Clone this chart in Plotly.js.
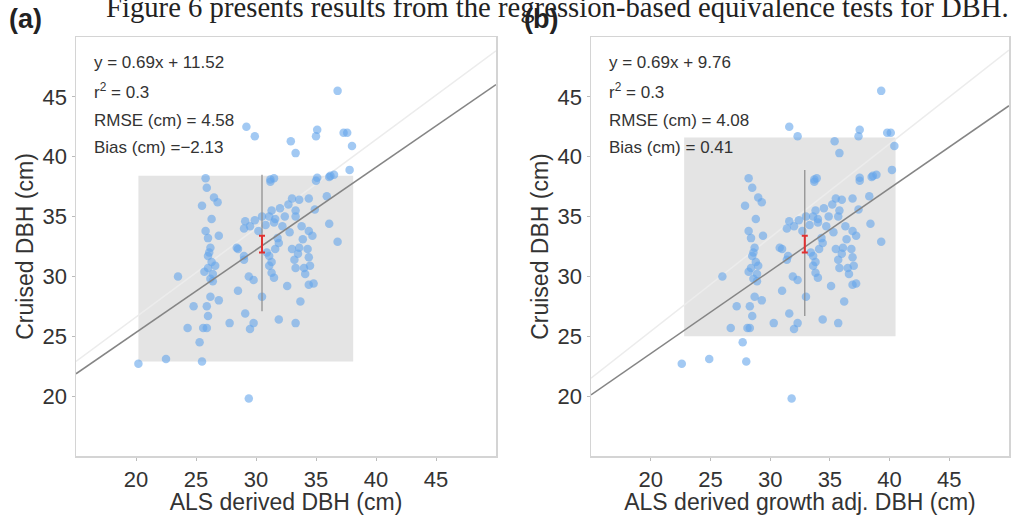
<!DOCTYPE html>
<html>
<head>
<meta charset="utf-8">
<script src="https://cdn.plot.ly/plotly-3.0.1.min.js"></script>
<style>html,body{margin:0;padding:0;background:#fff;}#chart{width:1016px;height:515px;}</style>
</head>
<body>
<div id="chart"></div>
<script>
// Cruised DBH (cm) - same trees in both panels
const cruisedDBH = [38.2,37.4,36.2,35.9,34.8,33.8,33.2,32.4,31.7,31.2,30.7,30.2,29.8,29.6,30.0,27.5,27.5,28.3,28.0,26.7,
  25.7,25.7,25.7,24.5,22.7,23.1,22.9,19.8,37.9,38.2,38.0,38.3,38.5,38.9,36.7,36.5,36.4,36.5,35.7,35.5,
  35.5,35.0,34.8,35.0,35.0,34.2,33.8,34.6,34.2,34.7,34.0,35.0,34.5,33.4,34.4,32.9,32.3,31.7,32.4,31.4,
  31.7,31.2,32.3,32.8,32.3,32.4,32.3,31.6,30.9,31.4,30.7,30.7,30.3,30.9,30.0,29.7,29.2,29.3,29.4,28.8,
  28.3,27.9,26.9,26.1,26.1,25.6,26.4,26.1,45.5,41.7,42.5,42.25,41.7,42.0,42.0,40.9,41.3,40.3,38.1,38.25,
  38.4,32.0,30.9,30.4,33.4,33.8,34.3,34.2,33.7,33.2,32.0,33.1,35.6,36.0,31.9,30.2,29.9,36.6];
// Panel (a): ALS derived DBH (cm)
const alsDBH = [25.8,25.9,26.8,25.5,26.3,25.8,26.0,26.2,26.0,26.3,26.0,26.4,26.2,26.4,23.5,24.8,25.9,26.2,26.9,26.0,
  24.3,25.6,25.9,25.3,20.2,22.5,25.5,29.4,31.2,31.5,35.0,36.1,36.5,37.8,35.9,33.0,33.6,34.4,32.0,31.3,
  33.3,31.1,31.6,32.4,33.3,33.8,34.4,29.1,29.5,29.9,29.0,30.5,31.5,34.7,36.1,36.8,28.5,29.0,28.4,29.0,
  31.1,31.3,31.6,31.9,33.0,33.6,34.3,34.4,34.5,33.2,33.3,34.0,31.3,31.1,29.4,29.8,32.6,34.4,34.8,28.5,
  30.5,33.7,29.1,27.8,29.8,29.5,31.9,33.3,36.8,29.9,29.2,35.1,35.0,37.3,37.6,38.0,32.9,33.3,31.2,35.1,
  36.2,26.1,26.6,25.7,26.9,30.2,30.8,32.2,32.8,31.8,30.9,33.9,34.9,32.7,33.5,34.1,31.5,26.5];
// Panel (b): ALS derived growth adj. DBH (cm)
const alsGrowthAdjDBH = [28.2,28.5,29.3,27.9,28.8,28.2,28.4,28.7,28.5,28.8,28.4,28.9,28.6,28.9,26.0,27.2,28.3,28.7,29.3,28.5,
  26.7,28.1,28.3,27.7,22.6,24.9,28.0,31.8,33.7,33.9,37.5,38.5,38.9,40.2,38.3,35.5,36.0,36.9,34.5,33.8,
  35.8,33.6,34.0,34.9,35.7,36.3,36.9,31.6,32.0,32.4,31.4,33.0,34.0,37.2,38.4,39.3,31.0,31.5,30.8,31.4,
  33.6,33.8,34.1,34.4,35.5,36.1,36.8,36.9,37.0,35.7,35.8,36.5,33.8,33.6,31.9,32.3,35.1,36.9,37.2,31.0,
  33.0,36.2,31.6,30.3,32.3,32.0,34.4,35.7,39.3,32.3,31.6,37.5,37.4,39.8,40.1,40.4,35.4,35.8,33.7,37.5,
  38.6,28.6,29.0,28.2,29.4,32.7,33.3,34.7,35.3,34.3,33.4,36.4,37.4,35.2,36.0,36.6,34.0,29.0];

const panelLabels = ["(a)", "(b)"];
const xTitles = ["ALS derived DBH (cm)", "ALS derived growth adj. DBH (cm)"];
const yTitle = "Cruised DBH (cm)";
const tickValues = [20, 25, 30, 35, 40, 45];
const axisRange = [15, 50];
const slopes = [0.69, 0.69];
const intercepts = [11.52, 9.76];
const statTexts = [
  ["y = 0.69x + 11.52", "r<sup>2</sup> = 0.3", "RMSE (cm) = 4.58", "Bias (cm) =\u22122.13"],
  ["y = 0.69x + 9.76", "r<sup>2</sup> = 0.3", "RMSE (cm) = 4.08", "Bias (cm) = 0.41"]
];
// equivalence region (x range, y range)
const regionX = [[20.2, 38.1], [22.8, 40.5]];
const regionY = [[22.9, 38.4], [25.0, 41.6]];
// mean line and confidence bar
const meanX = [30.5, 32.9];
const meanLineY = [[27.1, 38.5], [26.7, 38.9]];
const meanY = [32.7, 32.7];
const meanErr = [0.7, 0.7];
// faint reference lines
const faintX = [[15, 50], [15, 50]];
const faintY = [[22.9, 48.85], [21.5, 48.9]];
const caption = "Figure 6 presents results from the regression-based equivalence tests for DBH.";

const FONT = "Liberation Sans, Arial, sans-serif";
const xs = [alsDBH, alsGrowthAdjDBH];
const traces = [];
const shapes = [];
const annotations = [];
const W = 1016, H = 515;
const xDomains = [[76/W, 496/W], [591/W, 1009/W]];
const yDomain = [1 - 456/H, 1 - 37/H];

for (let p = 0; p < 2; p++) {
  const xa = p === 0 ? 'x' : 'x2';
  const ya = p === 0 ? 'y' : 'y2';
  shapes.push({type:'rect', xref:xa, yref:ya, x0:regionX[p][0], x1:regionX[p][1], y0:regionY[p][0], y1:regionY[p][1],
    fillcolor:'#e4e4e4', line:{width:0}, layer:'below'});
  traces.push({x: faintX[p], y: faintY[p], xaxis:xa, yaxis:ya, mode:'lines', line:{color:'#ececec', width:1.5}, hoverinfo:'skip', showlegend:false});
  traces.push({x: xs[p], y: cruisedDBH, xaxis:xa, yaxis:ya, mode:'markers', type:'scatter',
    marker:{color:'rgba(100,165,235,0.6)', size:8.5, line:{width:0}}, showlegend:false});
  traces.push({x: axisRange, y: axisRange.map(v => slopes[p]*v + intercepts[p]), xaxis:xa, yaxis:ya, mode:'lines',
    line:{color:'#858585', width:1.5}, showlegend:false});
  traces.push({x: [meanX[p], meanX[p]], y: meanLineY[p], xaxis:xa, yaxis:ya, mode:'lines',
    line:{color:'#8a8a8a', width:1.2}, showlegend:false});
  traces.push({x: [meanX[p]], y: [meanY[p]], xaxis:xa, yaxis:ya, mode:'markers',
    marker:{size:1, color:'#e03030'}, error_y:{type:'data', array:[meanErr[p]], color:'#e03030', thickness:2, width:3},
    showlegend:false});
  const xd = xDomains[p];
  statTexts[p].forEach((t, i) => {
    annotations.push({xref:'paper', yref:'paper', x: xd[0] + 16/W, y: 1 - [63, 91, 120, 148][i]/H,
      xanchor:'left', yanchor:'middle', text:t, showarrow:false, font:{family:FONT, size:17, color:'#333'}});
  });
  annotations.push({xref:'paper', yref:'paper', x: (p === 0 ? 7 : 522)/W, y: 1 - 19/H, xanchor:'left', yanchor:'middle',
    text:'<b>' + panelLabels[p] + '</b>', showarrow:false, font:{family:FONT, size:27, color:'#222'}});
}
annotations.push({xref:'paper', yref:'paper', x: 557/W, y: 1 - 25/H, xanchor:'center', yanchor:'bottom',
  text: caption, showarrow:false, font:{family:'Liberation Serif, Times New Roman, serif', size:28.7, color:'#222'}});

function axis(domain, anchor, title) {
  return {domain: domain, anchor: anchor, range: axisRange, tickvals: tickValues, showgrid:false, zeroline:false,
    showline:true, mirror:true, linecolor:'#d4d4d4', linewidth:1.5, ticks:'outside', ticklen:3, tickcolor:'#bbb',
    tickfont:{family:FONT, size:22, color:'#333'}, title:{text:title, font:{family:FONT, size:23, color:'#333'}, standoff:2}};
}
const layout = {
  width: W, height: H, margin:{l:0, r:0, t:0, b:0}, paper_bgcolor:'#fff', plot_bgcolor:'#fff',
  xaxis: axis(xDomains[0], 'y', xTitles[0]),
  yaxis: axis(yDomain, 'x', yTitle),
  xaxis2: axis(xDomains[1], 'y2', xTitles[1]),
  yaxis2: axis(yDomain, 'x2', yTitle),
  shapes: shapes, annotations: annotations, showlegend:false
};
Plotly.newPlot('chart', traces, layout, {displayModeBar:false, staticPlot:true});
</script>
</body>
</html>
